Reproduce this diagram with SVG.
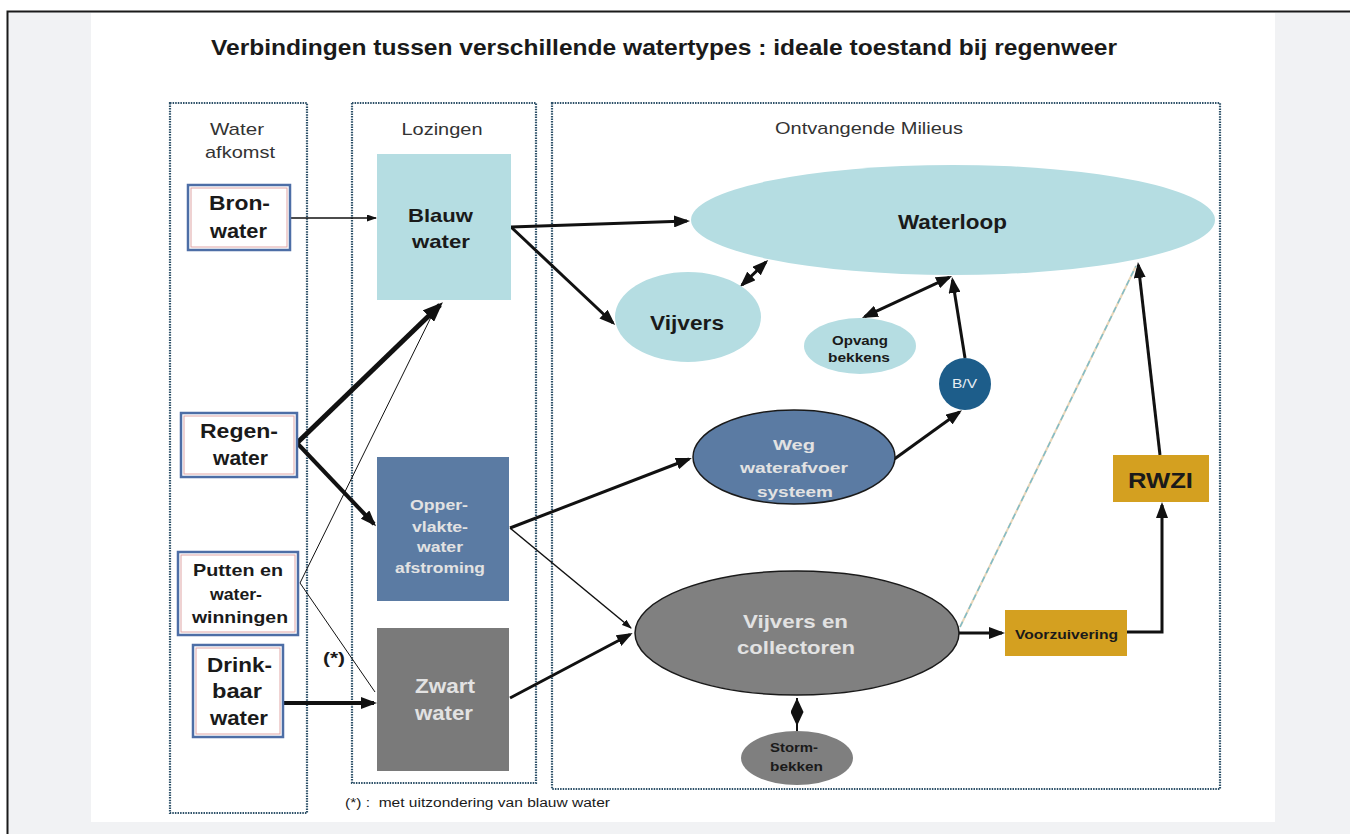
<svg xmlns="http://www.w3.org/2000/svg" width="1350" height="834" viewBox="0 0 1350 834">
<defs>
<style>
.frame{fill:none;stroke:#2d5068;stroke-width:2.2;stroke-dasharray:1.5 1.1}
.hdr{font-family:"Liberation Sans",Arial,sans-serif;font-size:17px;fill:#333;text-anchor:middle}
.b{font-family:"Liberation Sans",Arial,sans-serif;font-weight:bold;text-anchor:middle;fill:#1a1a1a}
.lt{fill:#e2e2e2}
.src{fill:#fff;stroke:#4d6ea6;stroke-width:2.5}
.srci{fill:none;stroke:#e0a6a6;stroke-width:1}
.con{fill:none;stroke:#111;stroke-linecap:butt}
</style>
<marker id="ah" markerUnits="userSpaceOnUse" markerWidth="16" markerHeight="12" viewBox="0 0 16 12" refX="13" refY="6" orient="auto-start-reverse"><path d="M0,0 L16,6 L0,12 z" fill="#111"/></marker>
<marker id="ahBig" markerUnits="userSpaceOnUse" markerWidth="20" markerHeight="16" viewBox="0 0 20 16" refX="16" refY="8" orient="auto"><path d="M0,0 L20,8 L0,16 z" fill="#111"/></marker>
<marker id="ahSm" markerUnits="userSpaceOnUse" markerWidth="10" markerHeight="7" viewBox="0 0 10 7" refX="9" refY="3.5" orient="auto"><path d="M0,0 L10,3.5 L0,7 z" fill="#111"/></marker>
<marker id="dTip" markerUnits="userSpaceOnUse" markerWidth="14" markerHeight="13" viewBox="0 0 14 13" refX="14" refY="6.5" orient="auto-start-reverse"><path d="M0,0 L14,6.5 L0,13 z" fill="#111"/></marker>
<marker id="dBase" markerUnits="userSpaceOnUse" markerWidth="14" markerHeight="13" viewBox="0 0 14 13" refX="0" refY="6.5" orient="auto"><path d="M0,0 L14,6.5 L0,13 z" fill="#111"/></marker>
</defs>

<rect x="0" y="0" width="1350" height="834" fill="#fff"/>
<rect x="7" y="11" width="1343" height="823" fill="#f1f2f4"/>
<path d="M7.5,834 V11.5 H1350" fill="none" stroke="#1a1a1a" stroke-width="2"/>
<rect x="91" y="13" width="1184" height="809" fill="#fff"/>

<text x="664" y="55" class="b" font-size="22" textLength="906" lengthAdjust="spacingAndGlyphs">Verbindingen tussen verschillende watertypes : ideale toestand bij regenweer</text>

<g id="col-afkomst">
<rect x="170" y="103" width="137" height="710" class="frame"/>
<text x="237" y="135" class="hdr" textLength="54" lengthAdjust="spacingAndGlyphs">Water</text>
<text x="240" y="158" class="hdr" textLength="70" lengthAdjust="spacingAndGlyphs">afkomst</text>
</g>
<g id="col-lozingen">
<rect x="352" y="103" width="184" height="680" class="frame"/>
<text x="442" y="135" class="hdr" textLength="81" lengthAdjust="spacingAndGlyphs">Lozingen</text>
</g>
<g id="col-milieus">
<rect x="552" y="103" width="668" height="686" class="frame"/>
<text x="869" y="134" class="hdr" textLength="188" lengthAdjust="spacingAndGlyphs">Ontvangende Milieus</text>
</g>

<g id="connectors">
<line x1="290" y1="218" x2="376" y2="218" class="con" stroke-width="1.5" marker-end="url(#ahSm)"/>
<line x1="300" y1="583" x2="437" y2="305" class="con" stroke="#2b4d6b" stroke-width="1"/>
<line x1="300" y1="583" x2="375" y2="692" class="con" stroke="#2b4d6b" stroke-width="1"/>
<line x1="511" y1="227" x2="687" y2="221" class="con" stroke-width="3" marker-end="url(#ah)"/>
<line x1="511" y1="227" x2="613" y2="323" class="con" stroke-width="3" marker-end="url(#ah)"/>
<line x1="297" y1="443" x2="440" y2="305" class="con" stroke-width="5" marker-end="url(#ahBig)"/>
<line x1="297" y1="443" x2="374" y2="524" class="con" stroke-width="4" marker-end="url(#ah)"/>
<line x1="283" y1="703" x2="374" y2="703" class="con" stroke-width="4" marker-end="url(#ah)"/>
<line x1="510" y1="528" x2="689" y2="459" class="con" stroke-width="3" marker-end="url(#ah)"/>
<line x1="510" y1="528" x2="631" y2="628" class="con" stroke-width="1.5" marker-end="url(#ahSm)"/>
<line x1="510" y1="698" x2="630" y2="634.5" class="con" stroke-width="3" marker-end="url(#ah)"/>
<line x1="893" y1="460" x2="959.5" y2="412" class="con" stroke-width="3" marker-end="url(#ah)"/>
<line x1="965" y1="358" x2="952.5" y2="280" class="con" stroke-width="3" marker-end="url(#ah)"/>
<line x1="864.7" y1="316.7" x2="949.3" y2="277.3" class="con" stroke-width="3" marker-start="url(#ah)" marker-end="url(#ah)"/>
<line x1="742" y1="285" x2="766" y2="262" class="con" stroke-width="3" marker-start="url(#ah)" marker-end="url(#ah)"/>
<polyline points="797,698 797,712 797,732" class="con" stroke-width="2" marker-start="url(#dTip)" marker-mid="url(#dBase)"/>
<line x1="958" y1="633" x2="1002" y2="633" class="con" stroke-width="3" marker-end="url(#ah)"/>
<polyline points="1127,632 1162,632 1162,505" class="con" stroke-width="3" marker-end="url(#ah)"/>
<line x1="1160" y1="455" x2="1138.3" y2="265" class="con" stroke-width="3" marker-end="url(#ah)"/>
<line x1="960" y1="627" x2="1136" y2="266" fill="none" stroke="#e8d6b8" stroke-width="2"/>
<line x1="960" y1="627" x2="1136" y2="266" fill="none" stroke="#7fbcc8" stroke-width="1.5" stroke-dasharray="6 4"/>
</g>

<g id="bronwater">
<rect x="188" y="185" width="102" height="65" class="src"/>
<rect x="191" y="188" width="96" height="59" class="srci"/>
<text x="239.5" y="210" class="b" font-size="20" textLength="61" lengthAdjust="spacingAndGlyphs">Bron-</text>
<text x="238.5" y="238" class="b" font-size="20" textLength="57" lengthAdjust="spacingAndGlyphs">water</text>
</g>
<g id="regenwater">
<rect x="181" y="413" width="116" height="64" class="src"/>
<rect x="184" y="416" width="110" height="58" class="srci"/>
<text x="239" y="438" class="b" font-size="20" textLength="78" lengthAdjust="spacingAndGlyphs">Regen-</text>
<text x="240.5" y="465" class="b" font-size="20" textLength="55" lengthAdjust="spacingAndGlyphs">water</text>
</g>
<g id="putten">
<rect x="178" y="552" width="120" height="83" class="src"/>
<rect x="181" y="555" width="114" height="77" class="srci"/>
<text x="238" y="576" class="b" font-size="17" textLength="90" lengthAdjust="spacingAndGlyphs">Putten en</text>
<text x="236" y="600" class="b" font-size="17" textLength="52" lengthAdjust="spacingAndGlyphs">water-</text>
<text x="240" y="623" class="b" font-size="17" textLength="96" lengthAdjust="spacingAndGlyphs">winningen</text>
</g>
<g id="drinkbaar">
<rect x="193" y="645" width="90" height="92" class="src"/>
<rect x="196" y="648" width="84" height="86" class="srci"/>
<text x="239.5" y="672" class="b" font-size="20" textLength="65" lengthAdjust="spacingAndGlyphs">Drink-</text>
<text x="237" y="698" class="b" font-size="20" textLength="50" lengthAdjust="spacingAndGlyphs">baar</text>
<text x="239" y="725" class="b" font-size="20" textLength="58" lengthAdjust="spacingAndGlyphs">water</text>
</g>
<text x="334" y="664" class="b" font-size="16" textLength="22" lengthAdjust="spacingAndGlyphs">(*)</text>

<g id="blauwwater">
<rect x="377" y="154" width="134" height="146" fill="#b5dde2"/>
<text x="440.5" y="222" class="b" font-size="19" textLength="65" lengthAdjust="spacingAndGlyphs">Blauw</text>
<text x="441" y="248" class="b" font-size="19" textLength="58" lengthAdjust="spacingAndGlyphs">water</text>
</g>
<g id="oppervlakte">
<rect x="377" y="457" width="132" height="144" fill="#5b7ba3"/>
<text x="439" y="510" class="b lt" font-size="14" textLength="58" lengthAdjust="spacingAndGlyphs">Opper-</text>
<text x="440" y="532" class="b lt" font-size="14" textLength="56" lengthAdjust="spacingAndGlyphs">vlakte-</text>
<text x="440" y="552" class="b lt" font-size="14" textLength="46" lengthAdjust="spacingAndGlyphs">water</text>
<text x="440" y="573" class="b lt" font-size="14" textLength="90" lengthAdjust="spacingAndGlyphs">afstroming</text>
</g>
<g id="zwartwater">
<rect x="377" y="628" width="132" height="143" fill="#7a7a7a"/>
<text x="445" y="693" class="b lt" font-size="20" textLength="60" lengthAdjust="spacingAndGlyphs">Zwart</text>
<text x="444" y="720" class="b lt" font-size="20" textLength="58" lengthAdjust="spacingAndGlyphs">water</text>
</g>

<g id="waterloop">
<ellipse cx="953" cy="220" rx="262" ry="55" fill="#b5dde2"/>
<text x="952.5" y="229" class="b" font-size="20" textLength="109" lengthAdjust="spacingAndGlyphs">Waterloop</text>
</g>
<g id="vijvers">
<ellipse cx="688" cy="317" rx="73" ry="45" fill="#b5dde2"/>
<text x="687" y="330" class="b" font-size="20" textLength="74" lengthAdjust="spacingAndGlyphs">Vijvers</text>
</g>
<g id="opvang">
<ellipse cx="860" cy="346" rx="56" ry="28" fill="#b5dde2"/>
<text x="860" y="345" class="b" font-size="13" textLength="56" lengthAdjust="spacingAndGlyphs">Opvang</text>
<text x="859" y="362" class="b" font-size="13" textLength="62" lengthAdjust="spacingAndGlyphs">bekkens</text>
</g>
<g id="bv">
<circle cx="965" cy="384" r="26" fill="#1d5d8a"/>
<text x="964.5" y="388" class="b" font-size="13" textLength="25" lengthAdjust="spacingAndGlyphs" style="fill:#e8eef3;font-weight:normal">B/V</text>
</g>
<g id="weg">
<ellipse cx="794" cy="457" rx="101" ry="47" fill="#5b7ba3" stroke="#1a1a1a" stroke-width="1.5"/>
<text x="794" y="450" class="b lt" font-size="15.5" textLength="42" lengthAdjust="spacingAndGlyphs">Weg</text>
<text x="794" y="473" class="b lt" font-size="15.5" textLength="108" lengthAdjust="spacingAndGlyphs">waterafvoer</text>
<text x="795" y="497" class="b lt" font-size="15.5" textLength="76" lengthAdjust="spacingAndGlyphs">systeem</text>
</g>
<g id="vijverscollectoren">
<ellipse cx="797" cy="633" rx="162" ry="62" fill="#808080" stroke="#1a1a1a" stroke-width="1.5"/>
<text x="795.5" y="628" class="b lt" font-size="19" textLength="105" lengthAdjust="spacingAndGlyphs">Vijvers en</text>
<text x="796" y="654" class="b lt" font-size="19" textLength="118" lengthAdjust="spacingAndGlyphs">collectoren</text>
</g>
<g id="storm">
<ellipse cx="797" cy="758" rx="56" ry="27" fill="#7f7f7f"/>
<text x="794" y="752" class="b" font-size="13" textLength="48" lengthAdjust="spacingAndGlyphs">Storm-</text>
<text x="796.5" y="771" class="b" font-size="13" textLength="53" lengthAdjust="spacingAndGlyphs">bekken</text>
</g>
<g id="voorzuivering">
<rect x="1005" y="610" width="122" height="46" fill="#d4a020"/>
<text x="1066.5" y="639" class="b" font-size="13" textLength="103" lengthAdjust="spacingAndGlyphs">Voorzuivering</text>
</g>
<g id="rwzi">
<rect x="1113" y="455" width="96" height="47" fill="#d4a020"/>
<text x="1160.5" y="488" class="b" font-size="22" textLength="65" lengthAdjust="spacingAndGlyphs">RWZI</text>
</g>

<text x="345" y="807" font-family="Liberation Sans, Arial, sans-serif" font-size="12.5" fill="#1a1a1a" textLength="265" lengthAdjust="spacingAndGlyphs" xml:space="preserve">(*) :  met uitzondering van blauw water</text>
</svg>
